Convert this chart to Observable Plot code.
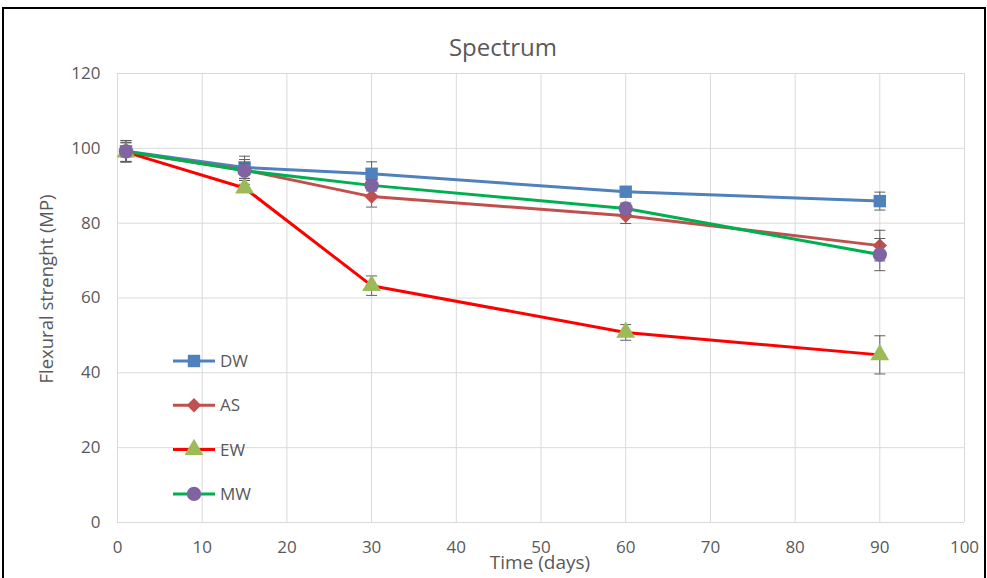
<!DOCTYPE html>
<html>
<head>
<meta charset="utf-8">
<script src="https://cdn.jsdelivr.net/npm/d3@7"></script>
<script src="https://cdn.jsdelivr.net/npm/@observablehq/plot@0.6"></script>
<style>
  html, body { margin: 0; padding: 0; background: #fff; }
  #wrap { position: relative; width: 987px; height: 578px; overflow: hidden; font-family: "Open Sans", sans-serif; color: #595959; }
  #border { position: absolute; left: 2px; top: 7px; width: 980px; height: 600px; border: 2px solid #000; border-bottom: none; }
  #chart { position: absolute; left: 0; top: 0; }
  .lbl { position: absolute; white-space: nowrap; color: #595959; }
  #title { left: 503px; top: 46px; transform: translate(-50%, -50%); font-size: 24px; }
  #xlabel { left: 540px; top: 562px; transform: translate(-50%, -50%); font-size: 19px; }
  #ylabel { left: 45px; top: 289px; transform: translate(-50%, -50%) rotate(-90deg); font-size: 18.5px; }
  #legend { position: absolute; left: 0; top: 0; }
</style>
</head>
<body>
<div id="wrap">
  <div id="border"></div>
  <div id="chart"></div>
  <div class="lbl" id="title">Spectrum</div>
  <div class="lbl" id="xlabel">Time (days)</div>
  <div class="lbl" id="ylabel">Flexural strenght (MP)</div>
  <svg id="legend" width="987" height="578"></svg>
</div>
<script>
// ---- data ----
const days = [1, 15, 30, 60, 90];
const seriesNames = ["DW", "AS", "EW", "MW"];
const dwValues = [99.2, 94.9, 93.2, 88.4, 85.9];
const asValues = [99.0, 94.2, 87.1, 82.0, 74.0];
const ewValues = [99.0, 89.4, 63.3, 50.8, 44.8];
const mwValues = [99.2, 94.0, 90.1, 83.9, 71.6];
const dwErrors = [2.9, 3.0, 3.2, 1.0, 2.4];
const asErrors = [2.5, 2.8, 2.8, 2.1, 4.1];
const ewErrors = [2.5, 1.0, 2.6, 2.1, 5.1];
const mwErrors = [2.8, 2.0, 1.5, 1.5, 4.3];
const xTicks = [0, 10, 20, 30, 40, 50, 60, 70, 80, 90, 100];
const yTicks = [0, 20, 40, 60, 80, 100, 120];

// ---- styles ----
const lineColors = { DW: "#4F81BD", AS: "#C0504D", EW: "#FF0000", MW: "#00B050" };
const markerColors = { DW: "#4F81BD", AS: "#C0504D", EW: "#9BBB59", MW: "#8064A2" };
const symbols = { DW: "square", AS: "diamond2", EW: "triangle", MW: "circle" };
const radii = { DW: 7, AS: 6.5, EW: 7, MW: 7.2 };

const valueSets = { DW: dwValues, AS: asValues, EW: ewValues, MW: mwValues };
const errorSets = { DW: dwErrors, AS: asErrors, EW: ewErrors, MW: mwErrors };
const rows = seriesNames.flatMap(s => days.map((d, i) => ({
  series: s, day: d, value: valueSets[s][i], err: errorSets[s][i]
})));

const capHalf = 0.65;
const marks = [
  Plot.gridX(xTicks, { stroke: "#D9D9D9", strokeOpacity: 1, strokeWidth: 1 }),
  Plot.gridY(yTicks, { stroke: "#D9D9D9", strokeOpacity: 1, strokeWidth: 1 }),
  Plot.axisX(xTicks, { tickSize: 0, tickPadding: 18, fontSize: 17, label: null, fill: "#595959" }),
  Plot.axisY(yTicks, { tickSize: 0, tickPadding: 17, fontSize: 17, label: null, fill: "#595959" }),
];
for (const s of seriesNames) {
  const data = rows.filter(r => r.series === s);
  marks.push(Plot.line(data, { x: "day", y: "value", stroke: lineColors[s], strokeWidth: 3, strokeLinejoin: "round" }));
}
for (const s of seriesNames) {
  const data = rows.filter(r => r.series === s);
  marks.push(Plot.ruleX(data, { x: "day", y1: d => d.value - d.err, y2: d => d.value + d.err, stroke: "#5F5F5F", strokeWidth: 1 }));
  marks.push(Plot.link(data, { x1: d => d.day - capHalf, x2: d => d.day + capHalf, y1: d => d.value + d.err, y2: d => d.value + d.err, stroke: "#5F5F5F", strokeWidth: 1 }));
  marks.push(Plot.link(data, { x1: d => d.day - capHalf, x2: d => d.day + capHalf, y1: d => d.value - d.err, y2: d => d.value - d.err, stroke: "#5F5F5F", strokeWidth: 1 }));
  marks.push(Plot.dot(data, { x: "day", y: "value", symbol: () => symbols[s], r: radii[s], fill: markerColors[s], stroke: "none" }));
}

const chart = Plot.plot({
  width: 987,
  height: 578,
  marginLeft: 117,
  marginRight: 23,
  marginTop: 73,
  marginBottom: 56,
  style: { fontFamily: "'Open Sans', sans-serif", fontSize: "17px", color: "#595959", background: "transparent" },
  x: { domain: [0, 100], label: null },
  y: { domain: [0, 120], label: null },
  symbol: { type: "identity" },
  marks
});
document.getElementById("chart").appendChild(chart);

// ---- legend (pixel-positioned overlay) ----
const leg = d3.select("#legend");
const legX0 = 173, legX1 = 215, legTop = 361, legStep = 44.3;
seriesNames.forEach((s, i) => {
  const y = legTop + i * legStep;
  const g = leg.append("g");
  g.append("line").attr("x1", legX0).attr("x2", legX1).attr("y1", y).attr("y2", y)
    .attr("stroke", lineColors[s]).attr("stroke-width", 3);
  const symType = { square: d3.symbolSquare, diamond2: d3.symbolDiamond2, triangle: d3.symbolTriangle, circle: d3.symbolCircle }[symbols[s]];
  g.append("path").attr("transform", `translate(${(legX0 + legX1) / 2},${y})`)
    .attr("d", d3.symbol(symType, Math.PI * radii[s] * radii[s])())
    .attr("fill", markerColors[s]);
  g.append("text").attr("x", legX1 + 5).attr("y", y).attr("dy", "0.36em")
    .attr("font-family", "'Open Sans', sans-serif").attr("font-size", 17).attr("fill", "#595959")
    .text(s);
});
</script>
</body>
</html>
